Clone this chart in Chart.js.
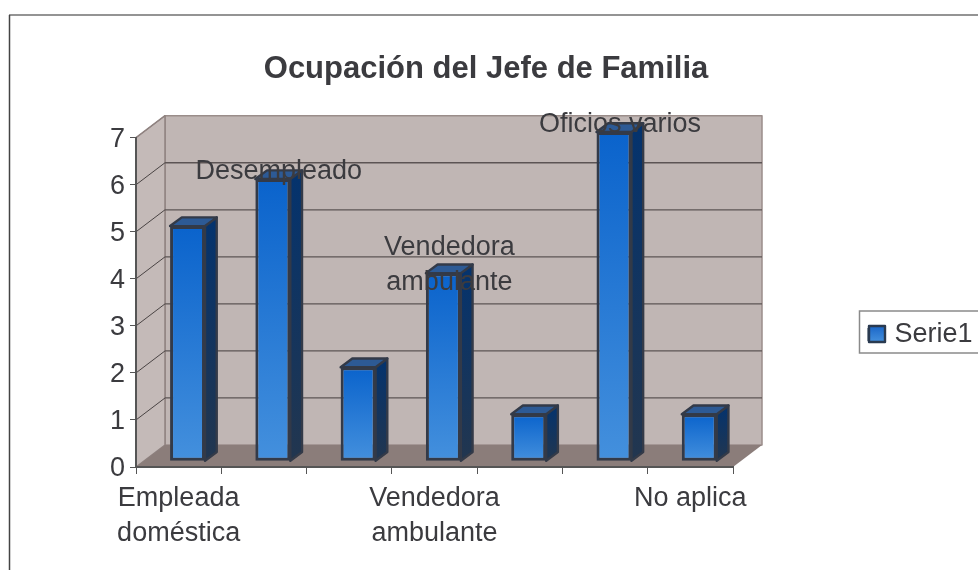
<!DOCTYPE html>
<html><head><meta charset="utf-8">
<style>html,body{margin:0;padding:0;background:#fff;overflow:hidden}canvas{display:block}</style>
<script src="https://cdn.jsdelivr.net/npm/chart.js@4/dist/chart.umd.min.js"></script>
</head><body>
<canvas id="c" width="978" height="570"></canvas>
<script>
const chartTitle = "Ocupación del Jefe de Familia";
const seriesName = "Serie1";
const categories = [["Empleada","doméstica"],["Desempleado"],[""],["Vendedora","ambulante"],[""],["Oficios varios"],["No aplica"]];
const values = [5,6,2,4,1,7,1];
const tickedCategories = [0,3,6];
const labelledBars = [1,3,5];

const FONT = '"Liberation Sans", Arial, sans-serif';
const TEXT = '#3b3b3f';
const WALL = {dx:29, dy:-22};
const BAR = {shiftX:8.9, shiftY:-5.7, dx:11.7, dy:-8.7};

function vGrad(ctx, y0, y1, c0, c1){
  const g = ctx.createLinearGradient(0,y0,0,y1);
  g.addColorStop(0,c0); g.addColorStop(1,c1);
  return g;
}
function poly(ctx, pts, fill, stroke, lw){
  ctx.beginPath();
  pts.forEach((p,i)=> i?ctx.lineTo(p[0],p[1]):ctx.moveTo(p[0],p[1]));
  ctx.closePath();
  if(fill){ctx.fillStyle=fill;ctx.fill();}
  if(stroke){ctx.strokeStyle=stroke;ctx.lineWidth=lw;ctx.lineJoin='round';ctx.stroke();}
}
const scene = {
  id:'scene',
  beforeLayout(chart){
    const l = chart.legend;
    if(!l._fitPatched){
      l._fitPatched = true;
      l.fit = function(){ Object.getPrototypeOf(l).fit.call(this); this.width = 239; };
    }
  },
  afterLayout(chart){
    const l = chart.legend;
    l.left = 863; l.right = 978; l.top = 316; l.bottom = 358; l.width = 115; l.height = 42;
    const y = chart.scales.y;
    if(!y._labelsPatched){
      y._labelsPatched = true;
      y.drawLabels = function(area){
        const c = this.ctx; c.save(); c.translate(0,2);
        Object.getPrototypeOf(y).drawLabels.call(this, area);
        c.restore();
      };
    }
  },
  beforeDraw(chart){
    const c = chart.ctx, a = chart.chartArea, y = chart.scales.y;
    c.save();
    c.fillStyle='#fff'; c.fillRect(0,0,chart.width,chart.height);
    // frame
    c.lineWidth=1.5;
    c.strokeStyle='#707070'; c.beginPath(); c.moveTo(9,15); c.lineTo(978,15); c.stroke();
    c.strokeStyle='#444'; c.beginPath(); c.moveTo(9.5,15); c.lineTo(9.5,570); c.stroke();
    const L=a.left,R=a.right,T=a.top,B=a.bottom,dx=WALL.dx,dy=WALL.dy;
    poly(c,[[L+dx,T+dy],[R+dx,T+dy],[R+dx,B+dy],[L+dx,B+dy]],'#c0b6b4','#9a8d8a',1.5);
    poly(c,[[L,T],[L+dx,T+dy],[L+dx,B+dy],[L,B]],'#c4bab8','#8f8280',1.5);
    poly(c,[[L,B],[R,B],[R+dx,B+dy],[L+dx,B+dy]],'#8b7d7a');
    y.ticks.forEach(t=>{
      const py=y.getPixelForValue(t.value);
      if(t.value>0 && t.value<7){
        c.strokeStyle='#5c5454'; c.lineWidth=1.3;
        c.beginPath(); c.moveTo(L+dx,py+dy); c.lineTo(R+dx,py+dy); c.stroke();
      }
      if(t.value>0){
        c.strokeStyle=t.value<7?'#4a4444':'#8f8280'; c.lineWidth=1;
        c.beginPath(); c.moveTo(L,py); c.lineTo(L+dx,py+dy); c.stroke();
      }
    });
    c.restore();
  },
  beforeDatasetDraw(chart,args){
    const c=chart.ctx, meta=args.meta;
    c.save();
    c.translate(BAR.shiftX,BAR.shiftY);
    meta.data.forEach(b=>{
      const l=b.x-b.width/2, r=b.x+b.width/2, t=b.y, s=b.base, dx=BAR.dx, dy=BAR.dy;
      poly(c,[[r,t],[r+dx,t+dy],[r+dx,s+dy],[r,s]],vGrad(c,t+dy,s,'#04336e','#22364f'),'#333a48',2.4);
      poly(c,[[l,t],[l+dx,t+dy],[r+dx,t+dy],[r,t]],'#2d5a95','#333a48',2.4);
    });
  },
  afterDatasetDraw(chart){ chart.ctx.restore(); },
  afterDatasetsDraw(chart){
    const c=chart.ctx, meta=chart.getDatasetMeta(0);
    c.save();
    c.font='27px '+FONT; c.fillStyle=TEXT; c.textAlign='center'; c.textBaseline='middle';
    labelledBars.forEach(i=>{
      const b=meta.data[i], lines=categories[i], h=35;
      const cy=b.y+BAR.shiftY-7.8;
      lines.forEach((s,k)=>c.fillText(s,b.x+BAR.shiftX+6,cy+(k-(lines.length-1)/2)*h));
    });
    c.restore();
  },
  afterDraw(chart){
    const c=chart.ctx;
    c.save();
    c.strokeStyle='#8a8a8a'; c.lineWidth=1.5;
    c.strokeRect(859.5,311,130,42);
    poly(c,[[869,326],[885,326],[885,342],[869,342]],vGrad(c,326,342,'#1a66c8','#4490dd'),'#2a3a50',2.4);
    c.restore();
  }
};
new Chart(document.getElementById('c'),{
  type:'bar',
  plugins:[scene],
  data:{labels:categories,datasets:[{
    label:seriesName,
    data:values,
    categoryPercentage:1,
    barPercentage:0.41,
    borderColor:'#333a48',
    borderWidth:3,
    borderSkipped:false,
    backgroundColor(ctx){
      const ch=ctx.chart;
      if(ctx.dataIndex===undefined || !ch.scales.y) return '#2a76d2';
      const s=ch.scales.y;
      return vGrad(ch.ctx,s.getPixelForValue(values[ctx.dataIndex]),s.getPixelForValue(0),'#0a63cc','#4490dd');
    }
  }]},
  options:{
    responsive:false,animation:false,
    layout:{padding:{left:0,right:6,top:0,bottom:0}},
    plugins:{
      tooltip:{enabled:false},
      title:{display:true,text:chartTitle,color:TEXT,
        font:{family:FONT,size:31,weight:'bold',lineHeight:1.2},
        padding:{top:51,bottom:49.5}},
      legend:{display:true,position:'right',align:'start',
        labels:{boxWidth:13,boxHeight:13,padding:5,color:TEXT,
          font:{family:FONT,size:27,lineHeight:1.2},
          generateLabels(){return [{text:seriesName,fillStyle:'#2a76d2',strokeStyle:'#2a3a50',lineWidth:1,fontColor:TEXT,datasetIndex:0}];}
        }}
    },
    scales:{
      x:{
        afterFit(s){s.height=103;},
        grid:{display:true,drawOnChartArea:false,drawTicks:true,tickLength:7,color:'#555',offset:true},
        border:{display:true,color:'#555',width:2},
        ticks:{autoSkip:false,maxRotation:0,minRotation:0,padding:7,color:TEXT,
          font:{family:FONT,size:27,lineHeight:1.3},
          callback(v,i){return tickedCategories.includes(i)?categories[i]:'';}}
      },
      y:{
        min:0,max:7,
        afterFit(s){s.width=136;},
        grid:{display:true,drawOnChartArea:false,drawTicks:true,tickLength:6,color:'#555'},
        border:{display:true,color:'#555',width:2},
        ticks:{stepSize:1,padding:5,color:TEXT,font:{family:FONT,size:27}}
      }
    }
  }
});
</script>
</body></html>
